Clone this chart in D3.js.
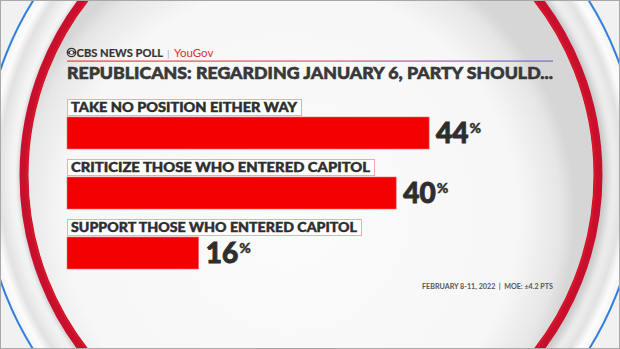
<!DOCTYPE html>
<html><head><meta charset="utf-8">
<script src="https://cdn.jsdelivr.net/npm/d3@7"></script>
<style>
html,body{margin:0;padding:0;background:#fff;}
svg{display:block;}
</style></head>
<body>
<svg id="chart" width="620" height="349"></svg>
<script>
const categories = ["TAKE NO POSITION EITHER WAY", "CRITICIZE THOSE WHO ENTERED CAPITOL", "SUPPORT THOSE WHO ENTERED CAPITOL"];
const values = [44, 40, 16];
const titleText = "REPUBLICANS: REGARDING JANUARY 6, PARTY SHOULD...";
const sourceText = "CBS NEWS POLL";
const partnerText = "YouGov";
const footerText = "FEBRUARY 8-11, 2022  |  MOE: \u00b14.2 PTS";

const W = 620, H = 349;
const svg = d3.select("#chart");
const defs = svg.append("defs");
const FONT = "Lato, 'Open Sans', sans-serif";

svg.append("rect").attr("width",W).attr("height",H).attr("fill","#f1f1f1");

const cx = 311, cy = 175;
// outer disk
const outerG = defs.append("radialGradient").attr("id","outerGrad").attr("gradientUnits","userSpaceOnUse")
  .attr("cx",cx).attr("cy",cy).attr("r",328);
outerG.append("stop").attr("offset","0.86").attr("stop-color","#d4d4d4");
outerG.append("stop").attr("offset","0.90").attr("stop-color","#f8f8f8");
outerG.append("stop").attr("offset","0.95").attr("stop-color","#e2e2e2");
outerG.append("stop").attr("offset","0.975").attr("stop-color","#fcfcfc");
outerG.append("stop").attr("offset","1").attr("stop-color","#f4f4f4");
svg.append("circle").attr("cx",cx).attr("cy",cy).attr("r",328).attr("fill","url(#outerGrad)");
svg.append("circle").attr("cx",cx).attr("cy",cy).attr("r",328).attr("fill","none")
  .attr("stroke","#2f7fe0").attr("stroke-width",2);

// inner disk
const innerG = defs.append("radialGradient").attr("id","innerGrad").attr("gradientUnits","userSpaceOnUse")
  .attr("cx",cx-20).attr("cy",cy+40).attr("r",284);
innerG.append("stop").attr("offset","0").attr("stop-color","#fbfbfb");
innerG.append("stop").attr("offset","0.8").attr("stop-color","#f7f7f7");
innerG.append("stop").attr("offset","0.95").attr("stop-color","#e6e6e6");
innerG.append("stop").attr("offset","1").attr("stop-color","#d6d6d6");
const filt = defs.append("filter").attr("id","shadow").attr("x","-10%").attr("y","-10%").attr("width","120%").attr("height","120%");
filt.append("feGaussianBlur").attr("stdDeviation",3);
svg.append("circle").attr("cx",cx+3).attr("cy",cy+2).attr("r",289).attr("fill","none")
  .attr("stroke","#999").attr("stroke-width",12).attr("opacity",0.45).attr("filter","url(#shadow)");
svg.append("circle").attr("cx",cx).attr("cy",cy).attr("r",283).attr("fill","url(#innerGrad)");
svg.append("circle").attr("cx",cx).attr("cy",cy).attr("r",287).attr("fill","none")
  .attr("stroke","#c8102e").attr("stroke-width",9);
svg.append("circle").attr("cx",cx).attr("cy",cy).attr("r",284).attr("fill","none")
  .attr("stroke","#e31b23").attr("stroke-width",2).attr("opacity",0.6);

// frame
svg.append("rect").attr("x",0.5).attr("y",0.5).attr("width",W-1).attr("height",H-1)
  .attr("fill","none").attr("stroke","#a8a8a8").attr("stroke-width",1);

// scales
const x = d3.scaleLinear().domain([0, 100]).range([67, 67 + 823]);
const y = d3.scaleBand().domain(categories).range([99, 279]).paddingInner(0);

function fit(sel, w){ const l = sel.node().getComputedTextLength(); if (Math.abs(l - w) > 1) sel.attr("textLength", w).attr("lengthAdjust","spacingAndGlyphs"); }

// header logo (CBS eye)
const logo = svg.append("g").attr("transform","translate(71.5,52.5)");
logo.append("circle").attr("r",4.2).attr("fill","none").attr("stroke","#333").attr("stroke-width",1.3);
logo.append("path").attr("d","M-4.2,0 Q0,-4.6 4.2,0 Q0,4.6 -4.2,0 Z").attr("fill","#333");
logo.append("circle").attr("r",1.6).attr("fill","#fff");
const src = svg.append("text").attr("x",76.5).attr("y",57).attr("font-family",FONT).attr("font-weight",700)
  .attr("font-size",11).attr("fill","#333").attr("stroke","#333").attr("stroke-width",0.2).text(sourceText);
fit(src, 86.5);
svg.append("text").attr("x",167).attr("y",57).attr("font-family",FONT)
  .attr("font-size",10).attr("fill","#aaa").text("|");
const yg = svg.append("text").attr("x",174).attr("y",57).attr("font-family",FONT).attr("font-weight",400)
  .attr("font-size",11.5).attr("fill","#e0302a").text(partnerText);
fit(yg, 39);

// header rule
const lg = defs.append("linearGradient").attr("id","ruleGrad");
lg.append("stop").attr("offset","0").attr("stop-color","#e8403a");
lg.append("stop").attr("offset","0.5").attr("stop-color","#d85a6a");
lg.append("stop").attr("offset","1").attr("stop-color","#6a6ad8");
svg.append("rect").attr("x",67).attr("y",60.5).attr("width",486).attr("height",1.2).attr("fill","url(#ruleGrad)");

// title
const title = svg.append("text").attr("x",67).attr("y",78.5).attr("font-family",FONT).attr("font-weight",900)
  .attr("font-size",17.5).attr("fill","#383838").attr("stroke","#383838").attr("stroke-width",0.6).text(titleText);
fit(title, 486);

// rows
const labelWidths = [234, 307, 294];
const rows = svg.append("g").selectAll("g").data(categories).join("g");
rows.append("rect")
  .attr("x", 67.5).attr("y", d => y(d) + 0.5)
  .attr("width", (d,i) => labelWidths[i]).attr("height", 16)
  .attr("fill", "#ffffff").attr("stroke", "#f2a9a9").attr("stroke-width", 1);
rows.append("text")
  .attr("x", 71).attr("y", d => y(d) + 13)
  .attr("font-family", FONT).attr("font-weight", 900).attr("font-size", 13.5)
  .attr("fill", "#2e2e2e").attr("stroke","#2e2e2e").attr("stroke-width",0.45).text(d => d)
  .each(function(d,i){ fit(d3.select(this), labelWidths[i] - 8); });

rows.append("rect")
  .attr("x", x(0)).attr("y", d => y(d) + 18)
  .attr("width", (d,i) => x(values[i]) - x(0)).attr("height", 32)
  .attr("fill", "#f20000").attr("stroke","#f27070").attr("stroke-width",0.6);

const vt = rows.append("text")
  .attr("x", (d,i) => x(values[i]) + 7).attr("y", d => y(d) + 44)
  .attr("font-family", FONT).attr("font-weight", 900).attr("font-size", 28)
  .attr("fill", "#2e2e2e").attr("stroke","#2e2e2e").attr("stroke-width",0.9);
vt.append("tspan").text((d,i) => values[i]);
vt.append("tspan").attr("font-size", 14).attr("dx", 1).attr("dy", -10).attr("stroke-width",0.4).text("%");

// footer
const ft = svg.append("text").attr("x",422).attr("y",289)
  .attr("font-family",FONT).attr("font-weight",700).attr("font-size",8).attr("fill","#555")
  .attr("xml:space","preserve").text(footerText);
fit(ft, 131);
</script>
</body></html>
